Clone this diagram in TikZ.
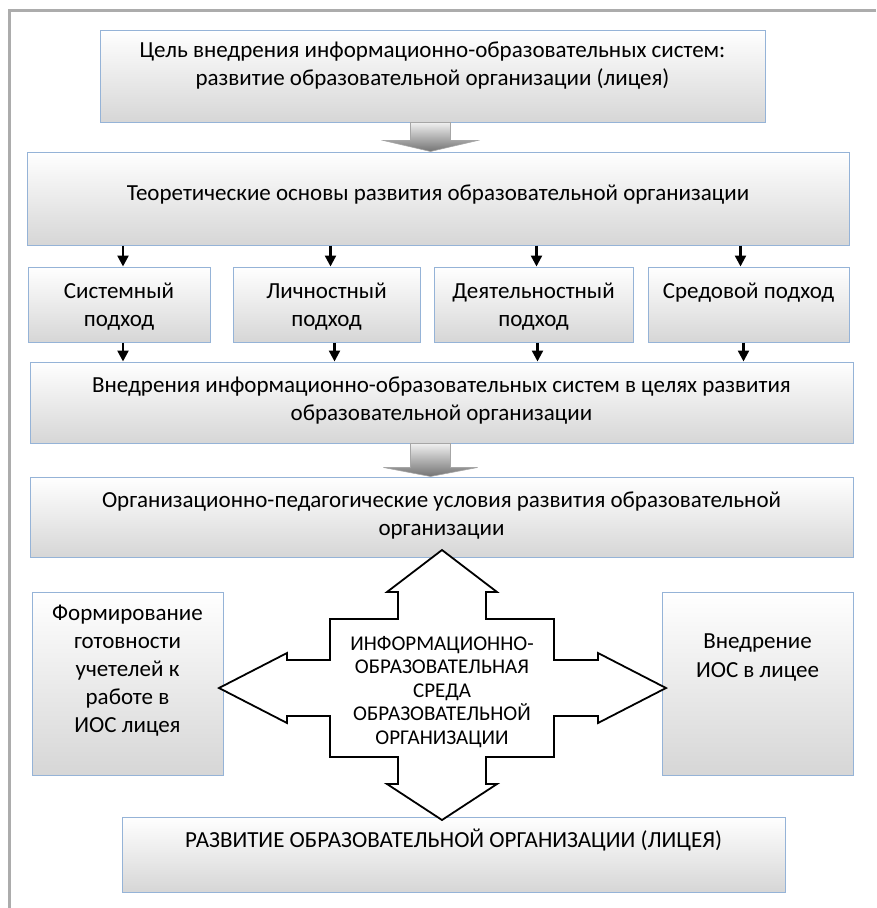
\documentclass[tikz,border=0pt]{standalone}
\usepackage{fontspec}
\setmainfont{Carlito}
\usetikzlibrary{arrows.meta,calc}
\definecolor{boxline}{RGB}{149,179,215}
\definecolor{framegray}{RGB}{172,172,172}

\begin{document}
\begin{tikzpicture}[x=1pt, y=-1pt, >={Triangle[length=11pt, width=11pt]}, line width=1pt]
\tikzstyle{box}=[rectangle, draw=boxline, top color=white, bottom color=black!16, align=center, inner sep=0pt, font=\fontsize{23}{28}\selectfont]
\tikzstyle{bigarrow}=[draw=black!35, line width=0.6pt, top color=black!6, bottom color=black!55]
\tikzstyle{link}=[->, line width=2.4pt]
\tikzstyle{cross}=[draw, line width=1.8pt, fill=white, line join=miter]
\useasboundingbox (0,0) rectangle (876,908);
\draw[framegray, line width=3pt] (9,908) -- (9,10) -- (876,10);

\node[box, minimum width=665, text height=55, text depth=37] (goal) at (432.5,76) {Цель внедрения информационно-образовательных систем:\\развитие образовательной организации (лицея)};
\node[box, minimum width=822, text height=48, text depth=45] (theory) at (438,198.5) {Теоретические основы развития образовательной организации};

\node[box, minimum width=182, text height=59, text depth=16] (sys) at (119,304.5) {Системный\\подход};
\node[box, minimum width=187, text height=59, text depth=16] (pers) at (326.5,304.5) {Личностный\\подход};
\node[box, minimum width=199, text height=59, text depth=16] (act) at (533.5,304.5) {Деятельностный\\подход};
\node[box, minimum width=201, text height=31, text depth=44] (env) at (748.5,304.5) {Средовой подход};

\node[box, minimum width=823, text height=58, text depth=23] (impl) at (441.5,402.5) {Внедрения информационно-образовательных систем в целях развития\\образовательной организации};
\node[box, minimum width=823, text height=58, text depth=22] (cond) at (441.5,517) {Организационно-педагогические условия развития образовательной\\организации};

\node[box, minimum width=191, text height=140, text depth=43] (teach) at (127.5,683.5) {Формирование\\готовности\\учетелей к\\работе в\\ИОС лицея};
\node[box, minimum width=191, text height=85, text depth=98, font=\fontsize{23}{29}\selectfont] (introd) at (757.5,683.5) {Внедрение\\ИОС в лицее};
\node[box, minimum width=663, text height=30, text depth=45] (result) at (453.5,854.5) {РАЗВИТИЕ ОБРАЗОВАТЕЛЬНОЙ ОРГАНИЗАЦИИ (ЛИЦЕЯ)};

\path[bigarrow] ($(goal.south)+(-22,0)$) -- ++(40,0) -- ++(0,18) -- ++(27,0) -- ($(goal.south |- theory.north)+(-2,0)$) -- ($(goal.south)+(-49,18)$) -- ++(27,0) -- cycle;
\path[bigarrow] ($(goal.south |- impl.south)+(-22,0)$) -- ++(40,0) -- ++(0,24) -- ++(27,0) -- ($(goal.south |- cond.north)+(-2,0)$) -- ($(goal.south |- impl.south)+(-49,24)$) -- ++(27,0) -- cycle;

\draw[link] ($(sys.north |- theory.south)+(4,0)$) -- ($(sys.north)+(4,0)$);
\draw[link] ($(pers.north |- theory.south)+(4,0)$) -- ($(pers.north)+(4,0)$);
\draw[link] ($(act.north |- theory.south)+(3,0)$) -- ($(act.north)+(3,0)$);
\draw[link] ($(env.north |- theory.south)+(-8,0)$) -- ($(env.north)+(-8,0)$);
\draw[link] ($(sys.south)+(4,0)$) -- ($(sys.south |- impl.north)+(4,0)$);
\draw[link] ($(pers.south)+(8,0)$) -- ($(pers.south |- impl.north)+(8,0)$);
\draw[link] ($(act.south)+(4,0)$) -- ($(act.south |- impl.north)+(4,0)$);
\draw[link] ($(env.south)+(-5,0)$) -- ($(env.south |- impl.north)+(-5,0)$);

\coordinate (hub) at (442,688);
\draw[cross, shift={(hub)}] (0,-138) -- (55,-96) -- (44,-96) -- (44,-69) -- (112,-69) -- (112,-28) -- (156,-28) -- (156,-35) -- (224,0)
  -- (156,35) -- (156,28) -- (112,28) -- (112,69) -- (44,69) -- (44,96) -- (55,96) -- (0,132)
  -- (-55,96) -- (-44,96) -- (-44,69) -- (-112,69) -- (-112,28) -- (-155,28) -- (-155,35) -- (-223,0)
  -- (-155,-35) -- (-155,-28) -- (-112,-28) -- (-112,-69) -- (-44,-69) -- (-44,-96) -- (-55,-96) -- cycle;
\node[anchor=base, align=center, inner sep=0pt, font=\fontsize{21}{23.5}\selectfont] (ios) at ($(hub)+(0,56)$) {ИНФОРМАЦИОННО-\\ОБРАЗОВАТЕЛЬНАЯ\\СРЕДА\\ОБРАЗОВАТЕЛЬНОЙ\\ОРГАНИЗАЦИИ};
\end{tikzpicture}
\end{document}
